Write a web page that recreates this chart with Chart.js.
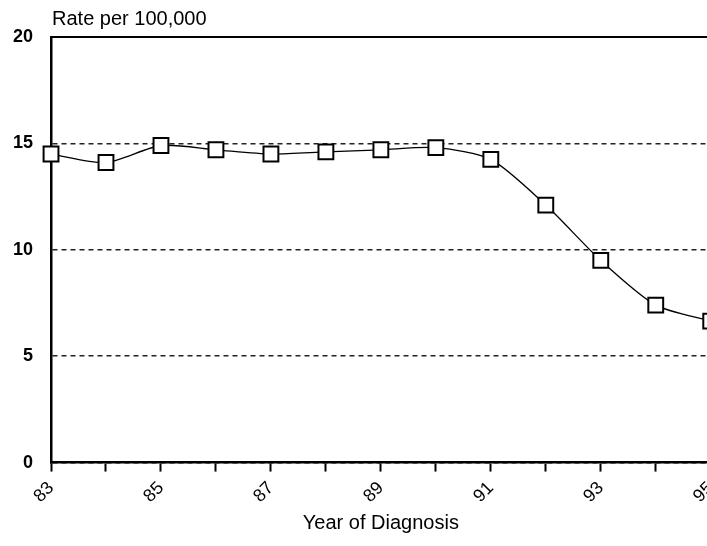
<!DOCTYPE html>
<html>
<head>
<meta charset="utf-8">
<script src="https://cdn.jsdelivr.net/npm/chart.js@4/dist/chart.umd.min.js"></script>
<style>
  html, body { margin: 0; padding: 0; background: #fff; overflow: hidden; }
  #wrap { width: 750px; height: 546px; margin-left: -18px; }
</style>
</head>
<body>
<div id="wrap"><canvas id="chart"></canvas></div>
<script>
// years of diagnosis (19xx)
const years = ['83', '84', '85', '86', '87', '88', '89', '90', '91', '92', '93', '94', '95'];
// rate per 100,000
const rates = [14.5, 14.1, 14.9, 14.7, 14.5, 14.6, 14.7, 14.8, 14.25, 12.1, 9.5, 7.4, 6.65];
const yTicks = [0, 5, 10, 15, 20];

const FONT = '"Liberation Sans", Arial, sans-serif';

// label above the y axis
const topLabel = {
    id: 'topLabel',
    afterDraw(chart) {
        const ctx = chart.ctx;
        ctx.save();
        ctx.font = '20px ' + FONT;
        ctx.fillStyle = '#000';
        ctx.textAlign = 'left';
        ctx.textBaseline = 'middle';
        ctx.fillText('Rate per 100,000', chart.chartArea.left + 1, 19);
        ctx.restore();
    }
};

const ctx = document.getElementById('chart').getContext('2d');
new Chart(ctx, {
    type: 'line',
    data: {
        labels: years,
        datasets: [{
            data: rates,
            xAxisID: 'x',
            borderColor: '#000',
            borderWidth: 1.3,
            tension: 0.25,
            pointStyle: 'rect',
            pointRadius: 10.5,
            pointBorderWidth: 2,
            pointBackgroundColor: '#fff',
            pointBorderColor: '#000'
        }]
    },
    options: {
        responsive: true,
        maintainAspectRatio: false,
        animation: false,
        layout: { padding: { left: 13, top: 37, right: 5, bottom: 11 } },
        plugins: {
            legend: { display: false },
            tooltip: { enabled: false }
        },
        scales: {
            x: {
                type: 'category',
                position: 'bottom',
                offset: false,
                grid: {
                    drawOnChartArea: false,
                    drawTicks: true,
                    tickLength: 9,
                    tickWidth: 2,
                    tickColor: '#000'
                },
                border: { display: true, color: '#000', width: 2.5 },
                ticks: {
                    autoSkip: false,
                    minRotation: 45,
                    maxRotation: 45,
                    padding: 6,
                    color: '#000',
                    font: { family: FONT, size: 18 },
                    callback: function (v, i) { return i % 2 === 0 ? years[i] : ''; }
                },
                title: {
                    display: true,
                    text: 'Year of Diagnosis',
                    color: '#000',
                    font: { family: FONT, size: 20 },
                    padding: { top: -2, bottom: 0 }
                }
            },
            x2: {
                type: 'category',
                position: 'top',
                labels: years,
                grid: { display: false, drawTicks: false },
                ticks: { display: false },
                border: { display: true, color: '#000', width: 2 }
            },
            y: {
                min: 0,
                max: 20,
                afterBuildTicks: function (axis) {
                    axis.ticks = yTicks.map(v => ({ value: v }));
                },
                grid: {
                    drawTicks: false,
                    color: '#222',
                    lineWidth: 1.5
                },
                border: { display: true, color: '#000', width: 2.5, dash: [5, 4] },
                ticks: {
                    padding: 18,
                    color: '#000',
                    font: { family: FONT, size: 18, weight: 'bold' }
                }
            }
        }
    },
    plugins: [topLabel]
});
</script>
</body>
</html>
